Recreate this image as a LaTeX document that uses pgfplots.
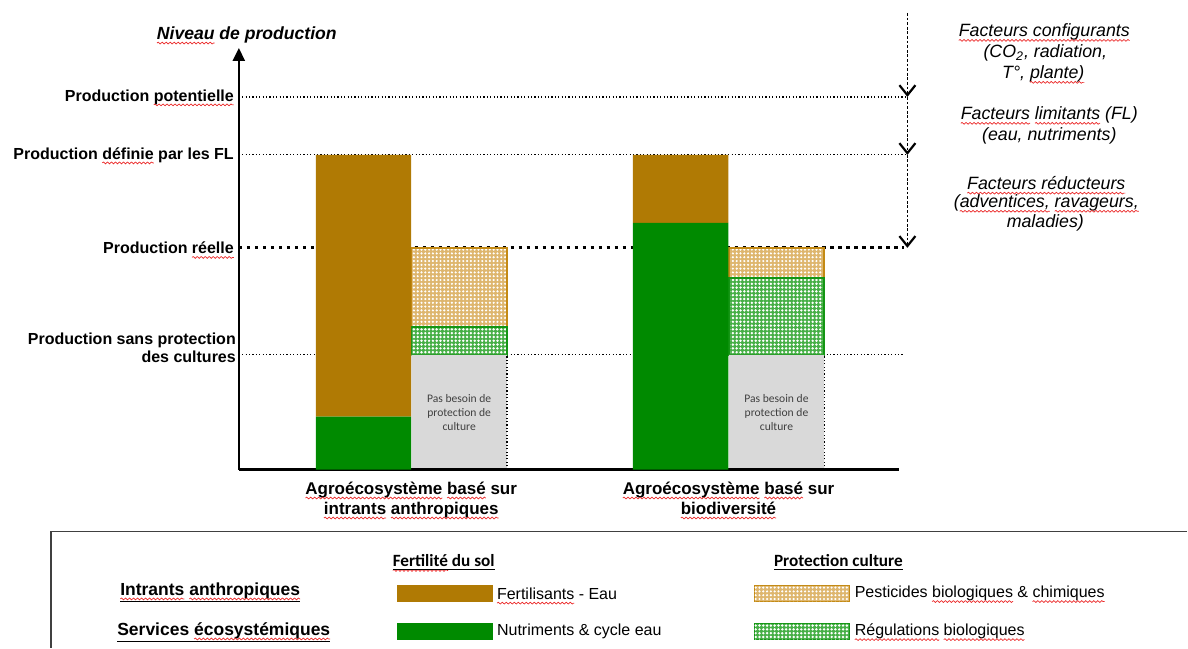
\documentclass[border=0pt]{standalone}
\usepackage{pgfplots}
\pgfplotsset{compat=1.18}
\usepackage{fontspec}
\setmainfont{Liberation Sans}
\newfontfamily\calibri{Carlito}
\usetikzlibrary{patterns.meta,arrows.meta,decorations.pathmorphing}

\definecolor{brownF}{RGB}{176,122,4}
\definecolor{greenN}{RGB}{0,138,0}
\definecolor{greyB}{RGB}{217,217,217}
\definecolor{tanP}{RGB}{222,182,110}
\definecolor{tanE}{RGB}{196,138,20}
\definecolor{greenP}{RGB}{70,175,70}
\definecolor{greenE}{RGB}{20,150,20}
\definecolor{spell}{RGB}{235,40,40}

\DeclareRobustCommand\sq[1]{\tikz[baseline=(w.base)]{\node[inner sep=0pt,outer sep=0pt,anchor=base,rotate=0,xshift=0pt,yshift=0pt](w){#1};
  \path[overlay,draw=spell,line width=0.35pt,decorate,decoration={snake,amplitude=0.45pt,segment length=2pt}]
  ([yshift=-1.9pt]w.base west) -- ([yshift=-1.9pt]w.base east);}}

\pgfplotsset{myax/.style={at={(119.5pt,-235pt)}, anchor=south west, scale only axis,
  width=330.5pt, height=211pt, xmin=0, xmax=661, ymin=0, ymax=422, clip=false,
  enlargelimits=false}}

\tikzset{
  patO/.style={fill=tanP, draw=tanE, line width=0.8pt,
     postaction={pattern={Dots[distance=1.9pt, radius=0.6pt]}, pattern color=white}},
  patG/.style={fill=greenP, draw=greenE, line width=0.8pt,
     postaction={pattern={Dots[distance=1.9pt, radius=0.68pt]}, pattern color=white}},
  barb/.style={black, line width=0.85pt, dash pattern=on 1.4pt off 0.9pt,
     -{Straight Barb[length=5pt,width=8pt,line width=1.1pt,sep=0pt]}},
}

\begin{document}
\begin{tikzpicture}
\begin{scope}[x=0.5pt,y=-0.5pt]
\useasboundingbox (0,0) rectangle (1188,648);
\end{scope}

% reference lines (behind the bars)
\begin{axis}[myax, hide axis]
\addplot[black, line width=0.6pt, dash pattern=on 0.6pt off 1.1pt] coordinates {(0,373) (668,373)};
\addplot[black, line width=0.6pt, dash pattern=on 0.6pt off 1.1pt] coordinates {(0,315) (668,315)};
\addplot[black, line width=1.6pt, dash pattern=on 1.6pt off 2.4pt] coordinates {(0,222) (666,222)};
\addplot[black, line width=0.6pt, dash pattern=on 0.6pt off 1.1pt] coordinates {(0,115) (666,115)};
\end{axis}

% protection bars
\begin{axis}[myax, hide axis, ybar stacked, bar width=95.5]
\addplot[fill=greyB, draw=none] coordinates {(220.5,115) (538,115)};
\addplot[patG] coordinates {(220.5,28) (538,77)};
\addplot[patO] coordinates {(220.5,79) (538,30)};
\end{axis}

\begin{axis}[myax, hide axis]
\addplot[black, line width=0.6pt, dash pattern=on 0.6pt off 1.1pt] coordinates {(268.25,0) (268.25,115)};
\addplot[black, line width=0.6pt, dash pattern=on 0.6pt off 1.1pt] coordinates {(585.75,0) (585.75,115)};
\node[font=\calibri\fontsize{5.8}{7}\selectfont, text=black!75, align=center] at (axis cs:220.5,57) {Pas besoin de\\protection de\\culture};
\node[font=\calibri\fontsize{5.8}{7}\selectfont, text=black!75, align=center] at (axis cs:538,57) {Pas besoin de\\protection de\\culture};
% right-hand dashed arrows
\draw[barb] (axis cs:669,457) -- (axis cs:669,373);
\draw[barb] (axis cs:669,373) -- (axis cs:669,315);
\draw[barb] (axis cs:669,315) -- (axis cs:669,222);
\end{axis}

% main axis with soil-fertility bars
\begin{axis}[myax, ybar stacked, bar width=95.5,
  axis lines=left, axis line style={line width=1.3pt},
  x axis line style={-}, y axis line style={-{Triangle[length=6.5pt,width=6pt]}},
  major tick length=0pt,
  xtick={172.5,490},
  xticklabels={{\sq{Agroécosystème} \sq{basé} sur\\\sq{intrants} \sq{anthropiques}},{\sq{Agroécosystème} \sq{basé} sur\\\sq{biodiversité}}},
  xticklabel style={align=center, font=\bfseries\fontsize{8.5}{10}\selectfont, yshift=-2.5pt},
  ytick={222,315,373},
  yticklabels={Production \sq{réelle}, Production \sq{définie} par les FL, Production \sq{potentielle}},
  yticklabel style={font=\bfseries\fontsize{8}{9}\selectfont, xshift=1pt},
  extra y ticks={115},
  extra y tick labels={{Production sans protection\\des cultures}},
  extra y tick style={yticklabel style={align=right, yshift=3.5pt, font=\bfseries\fontsize{8}{9}\selectfont, xshift=1pt}},
  ylabel={\bfseries\itshape \sq{Niveau} de production},
  ylabel style={rotate=-90, at={(axis description cs:0,1)}, anchor=south, xshift=4pt, yshift=-1pt,
     font=\fontsize{8.8}{10}\selectfont},
]
\addplot[fill=greenN, draw=none] coordinates {(124.75,53) (442,247)};
\addplot[fill=brownF, draw=none] coordinates {(124.75,262) (442,68)};
\end{axis}

\begin{scope}[x=0.5pt,y=-0.5pt]
% right-side texts
\begin{scope}[font=\itshape\fontsize{8.9}{10.5}\selectfont]
\node at (1045,32) {\sq{Facteurs configurants}};
\node at (1046,53) {(CO\textsubscript{2}, radiation,};
\node at (1044,74) {T°, \sq{plante)}};
\node at (1050,115) {\sq{Facteurs} \sq{limitants} (FL)};
\node at (1050,136) {(eau, nutriments)};
\node at (1047,183) {\sq{Facteurs réducteurs}};
\node at (1047,203) {(\sq{adventices,} \sq{ravageurs,}};
\node at (1046,223) {maladies)};
\end{scope}

% legend box
\draw[black!75, line width=0.8pt] (1188,532) -- (51,532) -- (51,648);
\node[anchor=west, inner sep=0pt, font=\bfseries\fontsize{8.75}{10}\selectfont] at (120,593) {\underline{\sq{Intrants} \sq{anthropiques}}};
\node[anchor=west, inner sep=0pt, font=\bfseries\fontsize{8.75}{10}\selectfont] at (117,633) {\underline{Services \sq{écosystémiques}}};
\node[font=\calibri\bfseries\fontsize{8.6}{10}\selectfont] at (444,563) {\underline{\sq{Fertilité} du sol}};
\node[font=\calibri\bfseries\fontsize{8.6}{10}\selectfont] at (839,563) {\underline{Protection culture}};
\fill[brownF] (397,585) rectangle (493,602);
\fill[greenN] (397,623) rectangle (493,640);
\path[patO] (755,586) rectangle (850,602);
\path[patG] (755,624) rectangle (850,640);
\begin{scope}[font=\fontsize{8}{10}\selectfont]
\node[anchor=west, inner sep=0pt] at (497,594) {\sq{Fertilisants} - Eau};
\node[anchor=west, inner sep=0pt] at (497,632) {Nutriments \& cycle eau};
\node[anchor=west, inner sep=0pt] at (855,594) {Pesticides \sq{biologiques} \& \sq{chimiques}};
\node[anchor=west, inner sep=0pt] at (855,632) {\sq{Régulations} \sq{biologiques}};
\end{scope}
\end{scope}
\end{tikzpicture}
\end{document}
